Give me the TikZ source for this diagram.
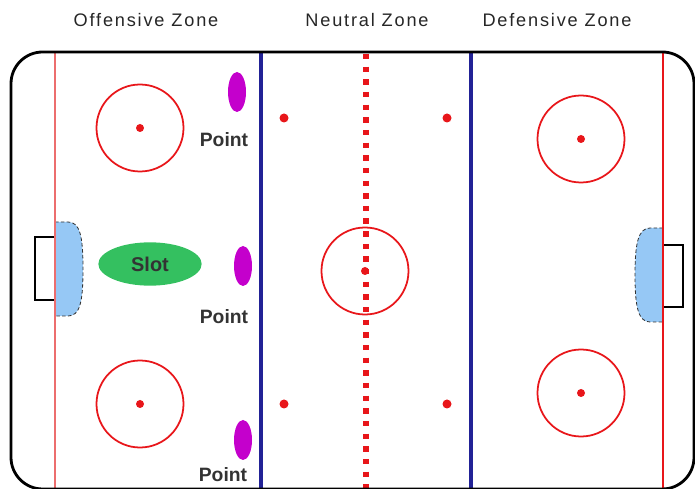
\documentclass[tikz,border=0pt]{standalone}
\usepackage{fontspec}
\setmainfont{Liberation Sans}
\usetikzlibrary{positioning, shapes.geometric}

\definecolor{rinkred}{RGB}{232,22,26}
\definecolor{goalred}{RGB}{236,110,110}
\definecolor{bluelinec}{RGB}{34,34,150}
\definecolor{creaseblue}{RGB}{150,200,245}
\definecolor{slotgreen}{RGB}{52,192,96}
\definecolor{pointpurple}{RGB}{196,0,204}

\begin{document}
\begin{tikzpicture}[
    x=0.03cm, y=-0.03cm,
    boards/.style={draw=black, line width=2.4pt, rounded corners=0.95cm},
    blueline/.style={draw=bluelinec, line width=3.4pt},
    redline/.style={draw=rinkred, line width=1.6pt},
    centerline/.style={draw=rinkred, line width=4.6pt, dash pattern=on 4.6pt off 6.2pt},
    faceoff/.style={draw=rinkred, line width=1.5pt},
    spot/.style={fill=rinkred},
    crease/.style={fill=creaseblue, draw=black!80, densely dashed, line width=0.7pt},
    net/.style={draw=black, fill=white, line width=0.9pt},
    zone/.style={font=\fontsize{15.5}{18}\selectfont\addfontfeatures{LetterSpace=10}, text=black!85},
    spotlabel/.style={font=\fontsize{16.5}{18}\selectfont\bfseries, text=black!80},
    slot/.style={ellipse, fill=slotgreen, minimum width=3.1cm, minimum height=1.3cm, font=\fontsize{17}{18}\selectfont\bfseries, text=black!80},
    point/.style={fill=pointpurple}
]
    \useasboundingbox (0,0) rectangle (695,489);

    % Zone titles
    \node[zone] (offzone) at (146,20) {Offensive Zone};
    \node[zone] (neuzone) at (367,20) {Neutral Zone};
    \node[zone] (defzone) at (557,20) {Defensive Zone};

    % Goal creases and nets
    \draw[crease] (55,222) -- (68,222) .. controls (80,222) and (83,236) .. (83,269)
        .. controls (83,302) and (80,316) .. (68,316) -- (55,316) -- cycle;
    \draw[crease] (663,228) -- (650,228) .. controls (638,228) and (635,244) .. (635,275)
        .. controls (635,306) and (638,322) .. (650,322) -- (663,322) -- cycle;
    \draw[net] (35,237) rectangle (55,300);
    \draw[net] (663,245) rectangle (683,307);

    % Goal lines
    \draw[draw=goalred, line width=1pt] (55,52) -- (55,489);
    \draw[redline] (663,52) -- (663,489);

    % Blue lines and centre line
    \draw[blueline] (261,52) -- (261,489);
    \draw[blueline] (471,52) -- (471,489);
    \draw[centerline] (366,54) -- (366,489);

    % Faceoff circles
    \foreach \cx/\cy in {140/128, 140/404, 581/139, 581/393, 365/271} {
        \draw[faceoff] (\cx,\cy) circle (43.5);
        \fill[spot] (\cx,\cy) circle (4);
    }
    % Neutral zone spots
    \foreach \cx/\cy in {284/118, 447/118, 284/404, 447/404}
        \fill[spot] (\cx,\cy) circle (4.5);

    % Slot and points
    \node[slot] (slot) at (150,264) {Slot};
    \fill[point] (237,92) ellipse (9 and 20);
    \fill[point] (243,266) ellipse (9 and 20);
    \fill[point] (243,440) ellipse (9 and 20);
    \node[spotlabel] (point1) at (224,140) {Point};
    \node[spotlabel] (point2) at (224,317) {Point};
    \node[spotlabel] (point3) at (223,475) {Point};

    % Boards
    \draw[boards] (11,52) rectangle (694,489);
\end{tikzpicture}
\end{document}
